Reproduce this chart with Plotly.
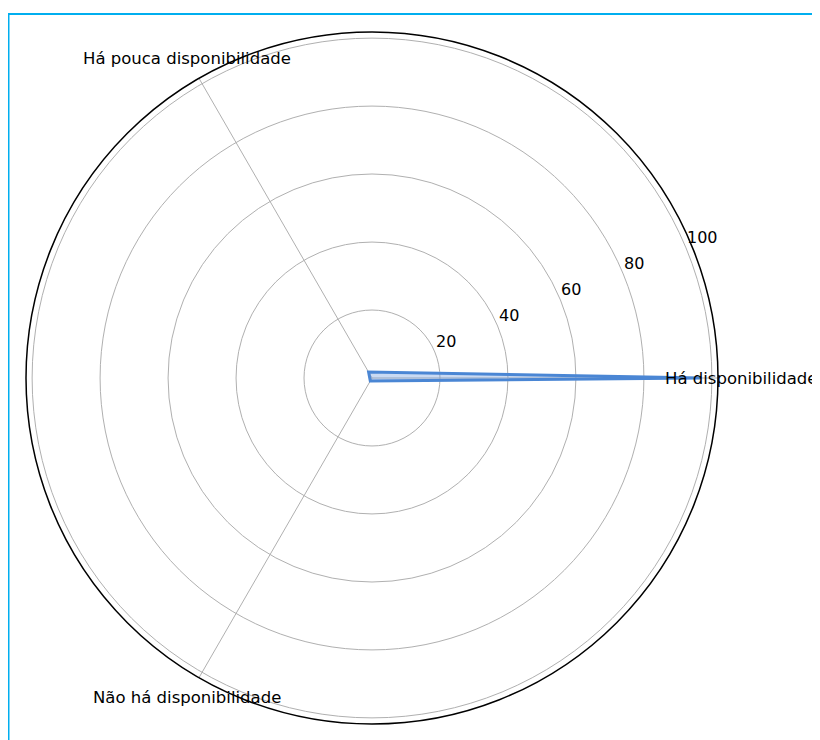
import math
import plotly.graph_objects as go

categories = ["Há disponibilidade", "Há pouca disponibilidade", "Não há disponibilidade"]
values = [97, 2, 1]
radial_ticks = [20, 40, 60, 80, 100]
radial_max = 101.8
label_angle = 22.5

# page is offset by the default 8px body margin
W, H = 820, 732
cx, cy, R = 364, 370, 346

theta = categories + [categories[0]]
r = values + [values[0]]

fig = go.Figure()
fig.add_trace(go.Scatterpolar(
    r=r, theta=theta, mode="lines", fill="toself",
    fillcolor="rgba(100,150,220,0.35)",
    line=dict(color="rgb(74,134,212)", width=3),
    showlegend=False, hoverinfo="skip",
))

dom_x = [(cx - R) / W, (cx + R) / W]
dom_y = [1 - (cy + R) / H, 1 - (cy - R) / H]

fig.update_layout(
    width=W, height=H,
    margin=dict(l=0, r=0, t=0, b=0),
    paper_bgcolor="white",
    font=dict(family="DejaVu Sans", size=16, color="#000000"),
    polar=dict(
        domain=dict(x=dom_x, y=dom_y),
        bgcolor="white",
        radialaxis=dict(
            range=[0, radial_max], tickvals=radial_ticks,
            angle=label_angle, showline=False, ticks="",
            showticklabels=False,
            gridcolor="#b0b0b0", gridwidth=1,
        ),
        angularaxis=dict(
            type="category", categoryarray=categories,
            direction="counterclockwise", rotation=0,
            showline=True, linecolor="#000000", linewidth=1.5,
            gridcolor="#b0b0b0", gridwidth=1, ticks="",
            showticklabels=False,
        ),
    ),
)

# angular category labels, centred just outside the circle (matplotlib style)
n = len(categories)
label_r = 1.067 * R
for i, c in enumerate(categories):
    a = math.radians(360 * i / n)
    px = cx + label_r * math.cos(a)
    py = cy - label_r * math.sin(a)
    fig.add_annotation(
        x=px / W, y=1 - py / H, xref="paper", yref="paper",
        text=c, showarrow=False, xanchor="center", yanchor="middle",
        font=dict(family="DejaVu Sans", size=16.5, color="#000000"),
    )

# radial tick labels, horizontal, anchored at (value, 22.5°)
scale = R / radial_max
a = math.radians(label_angle)
for v in radial_ticks:
    px = cx + v * scale * math.cos(a)
    py = cy - v * scale * math.sin(a)
    fig.add_annotation(
        x=px / W, y=1 - py / H, xref="paper", yref="paper",
        text=str(v), showarrow=False, xanchor="left", yanchor="bottom",
        borderpad=0,
        font=dict(family="DejaVu Sans", size=16, color="#000000"),
    )

# container frame
fig.add_shape(type="rect", xref="paper", yref="paper",
              x0=0.5 / W, x1=1.2, y0=-0.2, y1=1 - 6 / H,
              line=dict(color="#00aeef", width=2), layer="above")

fig.write_html("out.html")
